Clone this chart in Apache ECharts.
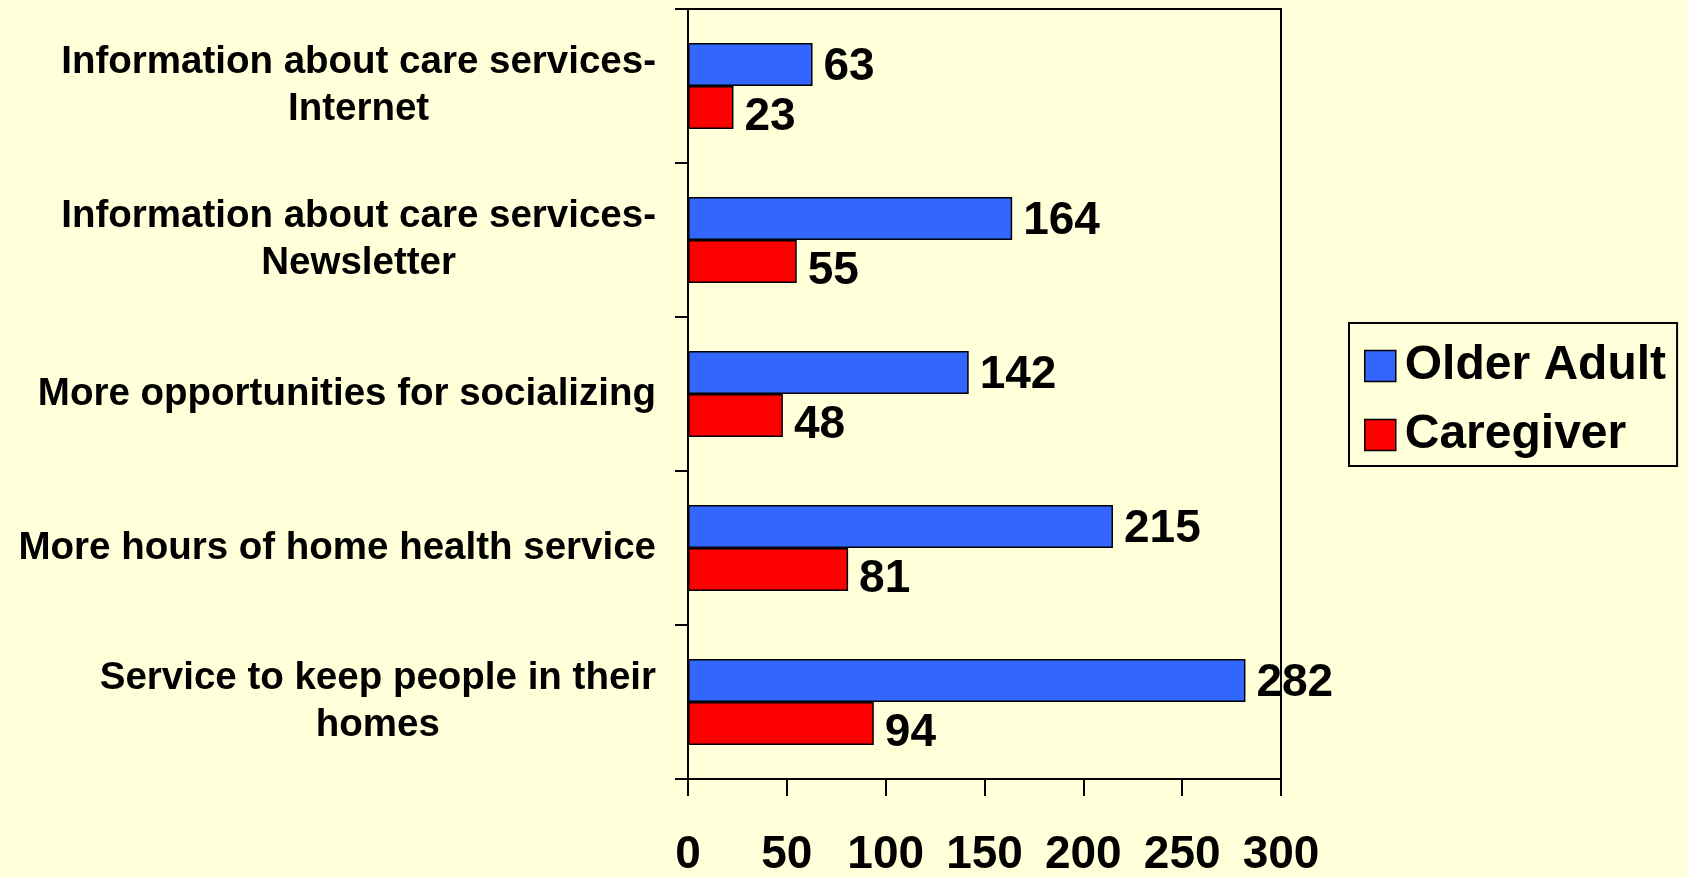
<!DOCTYPE html>
<html style="height: 100%">

<head>
    <meta charset="utf-8">
    <title>index</title>
    <style>
        html, body { margin: 0; padding: 0; background: #ffffd9; }
        #container {
            width: 1687px;
            height: 878px;
        }
    </style>
</head>

<body>
    <div id="container"></div>
</body>
<script src="https://cdn.jsdelivr.net/npm/echarts@6/dist/echarts.min.js"></script>
<script type="text/javascript">
    // data
    var categories = [
        'Information about care services-\nInternet',
        'Information about care services-\nNewsletter',
        'More opportunities for socializing',
        'More hours of home health service',
        'Service to keep people in their\nhomes'
    ];
    var olderAdult = [63, 164, 142, 215, 282];
    var caregiver = [23, 55, 48, 81, 94];
    var xTicks = [0, 50, 100, 150, 200, 250, 300];

    var font = '"Liberation Sans", Arial, sans-serif';

    var dom = document.getElementById("container");
    var myChart = echarts.init(dom);

    function valueLabel(dy) {
        return {
            show: true,
            position: 'right',
            distance: 11,
            offset: [0, dy],
            fontFamily: font,
            fontWeight: 'bold',
            fontSize: 46,
            color: '#000'
        };
    }

    var option = {
        backgroundColor: '#ffffd9',
        animation: false,
        grid: {
            left: 688,
            right: 406,
            top: 9,
            bottom: 99,
            show: true,
            borderColor: '#000',
            borderWidth: 2,
            backgroundColor: 'transparent'
        },
        legend: {
            orient: 'vertical',
            left: 1349,
            top: 323,
            padding: [19, 11, 7, 15],
            itemGap: 21,
            itemWidth: 31,
            itemHeight: 31,
            icon: 'rect',
            borderColor: '#000',
            borderWidth: 2,
            itemStyle: { borderColor: '#000', borderWidth: 1.5 },
            textStyle: {
                fontFamily: font,
                fontWeight: 'bold',
                fontSize: 48,
                padding: [0, 0, 0, 4],
                color: '#000'
            },
            data: ['Older Adult', 'Caregiver']
        },
        xAxis: {
            type: 'value',
            min: xTicks[0],
            max: xTicks[xTicks.length - 1],
            interval: 50,
            splitLine: { show: false },
            axisLine: { show: true, lineStyle: { color: '#000', width: 2 } },
            axisTick: { show: true, length: 17, lineStyle: { color: '#000', width: 2 } },
            axisLabel: {
                margin: 53,
                fontFamily: font,
                fontWeight: 'bold',
                fontSize: 46,
                color: '#000'
            }
        },
        yAxis: {
            type: 'category',
            inverse: true,
            data: categories,
            axisLine: { show: true, lineStyle: { color: '#000', width: 2 } },
            axisTick: { show: true, length: 13, lineStyle: { color: '#000', width: 2 } },
            axisLabel: {
                margin: 32,
                formatter: function (v) { return '{a|' + v.split('\n').join('}\n{a|') + '}'; },
                rich: {
                    a: {
                        align: 'center',
                        fontFamily: font,
                        fontWeight: 'bold',
                        fontSize: 38.5,
                        lineHeight: 47,
                        color: '#000'
                    }
                }
            }
        },
        series: [{
            name: 'Older Adult',
            type: 'bar',
            data: olderAdult,
            barWidth: 43,
            barGap: '0%',
            itemStyle: { color: '#3366ff', borderColor: '#000', borderWidth: 1.5 },
            label: valueLabel(3)
        }, {
            name: 'Caregiver',
            type: 'bar',
            data: caregiver,
            barWidth: 43,
            barGap: '0%',
            itemStyle: { color: '#ff0000', borderColor: '#000', borderWidth: 1.5 },
            label: valueLabel(10)
        }]
    };

    myChart.setOption(option, true);
</script>

</html>
